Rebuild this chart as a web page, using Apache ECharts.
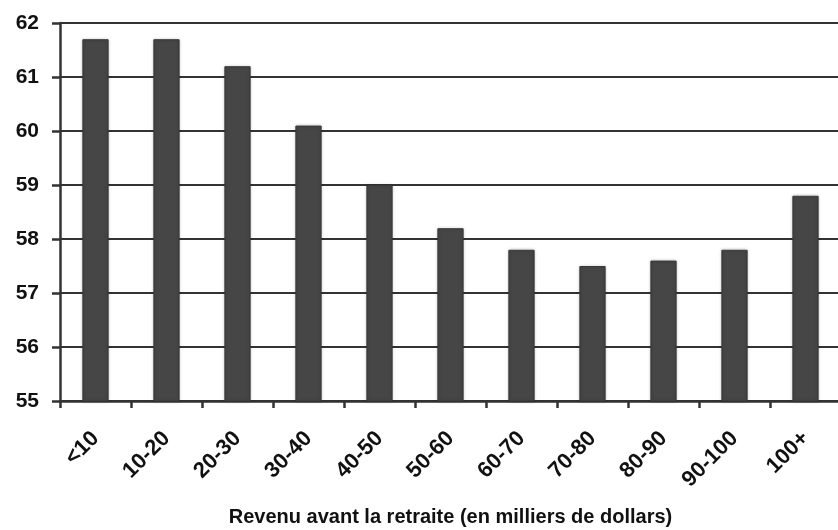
<!DOCTYPE html>
<html>
<head>
<meta charset="utf-8">
<script src="https://cdn.jsdelivr.net/npm/echarts@6/dist/echarts.min.js"></script>
<style>
html,body{margin:0;padding:0;background:#fff;}
#chart{width:838px;height:530px;}
</style>
</head>
<body>
<div id="chart"></div>
<script>
var categories = ['<10','10-20','20-30','30-40','40-50','50-60','60-70','70-80','80-90','90-100','100+'];
var values = [61.7, 61.7, 61.2, 60.1, 59.0, 58.2, 57.8, 57.5, 57.6, 57.8, 58.8];
var yMin = 55, yMax = 62, yStep = 1;
var xTitle = 'Revenu avant la retraite (en milliers de dollars)';

var chart = echarts.init(document.getElementById('chart'), null, {renderer:'canvas'});
var font = '"Liberation Sans", Arial, sans-serif';
chart.setOption({
  animation: false,
  backgroundColor: '#fff',
  grid: {left: 60, top: 23, width: 781, height: 378, containLabel: false, outerBoundsMode: 'none'},
  xAxis: {
    type: 'category',
    data: categories,
    boundaryGap: true,
    name: xTitle,
    nameLocation: 'middle',
    nameGap: 106,
    nameTextStyle: {fontFamily: font, fontWeight: 'bold', fontSize: 20, color: '#111'},
    axisLine: {show: true, lineStyle: {color: '#333', width: 2.5}},
    axisTick: {show: true, alignWithLabel: false, length: 7, lineStyle: {color: '#333', width: 2.5}},
    axisLabel: {rotate: 45, margin: 34, fontFamily: font, fontWeight: 'bold', fontSize: 22, color: '#111', interval: 0}
  },
  yAxis: {
    type: 'value',
    min: yMin, max: yMax, interval: yStep,
    axisLine: {show: true, lineStyle: {color: '#333', width: 2.5}},
    axisTick: {show: true, length: 8, lineStyle: {color: '#333', width: 2.5}},
    axisLabel: {margin: 21, fontFamily: font, fontWeight: 'bold', fontSize: 21, color: '#111'},
    splitLine: {show: true, lineStyle: {color: '#333', width: 2}}
  },
  series: [{
    type: 'bar',
    data: values,
    barWidth: '37%',
    itemStyle: {color: '#464646', borderColor: '#3a3a3a', borderWidth: 1, shadowColor: 'rgba(0,0,0,0.25)', shadowBlur: 3}
  }]
});
</script>
</body>
</html>
